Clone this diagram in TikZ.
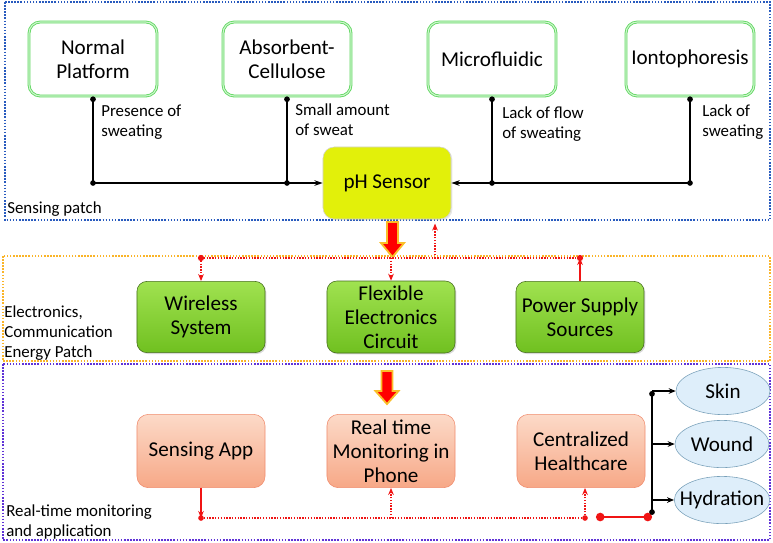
\documentclass[tikz,border=0pt]{standalone}
\usepackage{fontspec}
\setmainfont{Carlito}
\usetikzlibrary{shapes.geometric, arrows.meta, positioning, calc, shadows}

\definecolor{patchblue}{RGB}{40,90,190}
\definecolor{patchorange}{RGB}{250,180,40}
\definecolor{patchpurple}{RGB}{95,50,215}
\definecolor{platgreen}{RGB}{95,215,95}
\definecolor{platgreenlt}{RGB}{205,245,205}
\definecolor{phyellow}{RGB}{226,240,10}
\definecolor{elgreentop}{RGB}{160,226,80}
\definecolor{elgreenbot}{RGB}{112,192,32}
\definecolor{elborder}{RGB}{70,110,30}
\definecolor{apptop}{RGB}{252,218,200}
\definecolor{appbot}{RGB}{247,168,135}
\definecolor{appborder}{RGB}{240,140,110}
\definecolor{outblue}{RGB}{222,238,250}
\definecolor{outborder}{RGB}{120,160,185}
\definecolor{linkred}{RGB}{240,20,20}
\definecolor{glow}{RGB}{250,190,40}

\newcommand{\boxfont}{\fontsize{15}{17}\selectfont}
\newcommand{\notefont}{\fontsize{12}{14.3}\selectfont}

\begin{document}
\begin{tikzpicture}[x=0.025cm, y=-0.025cm, >={Stealth[length=5pt,width=4pt]},
    platform/.style={rounded corners=8pt, draw=platgreen, double=platgreenlt, double distance=0.8pt, line width=0.6pt, fill=white, minimum width=3.2cm, minimum height=1.85cm, align=center, font=\boxfont},
    sensor/.style={rounded corners=8pt, draw=gray!35, fill=phyellow, minimum width=3.2cm, minimum height=1.8cm, font=\boxfont, drop shadow={opacity=0.2, shadow xshift=1pt, shadow yshift=-1pt}},
    circuit/.style={rounded corners=7pt, draw=elborder, top color=elgreentop, bottom color=elgreenbot, minimum width=3.2cm, minimum height=1.78cm, align=center, font=\boxfont, drop shadow={opacity=0.3, shadow xshift=1pt, shadow yshift=-1pt}},
    appbox/.style={rounded corners=8pt, draw=appborder, top color=apptop, bottom color=appbot, minimum width=3.2cm, minimum height=1.83cm, align=center, font=\boxfont},
    outcome/.style={ellipse, draw=outborder, fill=outblue, minimum width=2.35cm, minimum height=1.18cm, inner xsep=-6pt, inner ysep=0pt, font=\boxfont},
    note/.style={font=\notefont, align=left, inner sep=0pt, anchor=north west},
    patch/.style={draw=#1, line width=1.2pt, dash pattern=on 1.1pt off 1.1pt},
    blk/.style={black, line width=0.9pt},
    redlink/.style={linkred, line width=1pt},
    reddot/.style={linkred, line width=1pt, densely dotted},
    bigarrow/.style={fill=red, draw=glow, line width=1.3pt, line join=miter}]

    \useasboundingbox (0,0) rectangle (773,542);

    % Patches
    \draw[patch=patchblue] (5,2) rectangle (770,220);
    \draw[patch=patchorange] (3,256) rectangle (770,361);
    \draw[patch=patchpurple] (3,364) rectangle (770,540);

    % Nodes
    \node (np) [platform] at (93,59) {Normal\\Platform};
    \node (ac) [platform] at (287,59) {Absorbent-\\Cellulose};
    \node (mf) [platform] at (492,59) {Microfluidic};
    \node (io) [platform] at (690,59) {Iontophoresis};
    \node (ph) [sensor] at (387,183) {pH Sensor};

    \node (wl) [circuit] at (201,317) {Wireless\\System};
    \node (fx) [circuit] at (391,317) {Flexible\\Electronics\\Circuit};
    \node (ps) [circuit] at (580,317) {Power Supply\\Sources};

    \node (sa) [appbox] at (201,451) {Sensing App};
    \node (rt) [appbox] at (391,451) {Real time\\Monitoring in\\Phone};
    \node (ch) [appbox] at (581,451) {Centralized\\Healthcare};

    \node (sk) [outcome] at (723,391) {Skin};
    \node (wo) [outcome] at (722,444) {Wound};
    \node (hy) [outcome] at (722,500) {Hydration};

    % Labels
    \node (lbNP) [note] at (101,105) {Presence of\\sweating};
    \node (lbAC) [note] at (295,103) {Small amount\\of sweat};
    \node (lbMF) [note] at (502,106) {Lack of flow\\of sweating};
    \node (lbIO) [note] at (702,104) {Lack of\\sweating};
    \node (lbSP) [note] at (7,201) {Sensing patch};
    \node (lbEL) [note] at (4,305) {Electronics,\\Communication\\Energy Patch};
    \node (lbRT) [note] at (6,504) {Real-time monitoring\\and application};

    % Big arrows between patches
    \draw[bigarrow, shift={(392.5,222)}] (-5.5,0) -- (5.5,0) -- (5.5,21) -- (11.5,21) -- (0,35) -- (-11.5,21) -- (-5.5,21) -- cycle;
    \draw[bigarrow, shift={(387,371)}] (-5.5,0) -- (5.5,0) -- (5.5,20) -- (11.5,20) -- (0,33) -- (-11.5,20) -- (-5.5,20) -- cycle;

    % Arrows
    \draw[blk, {Circle[length=4pt]}-{Stealth[length=6pt,width=4pt]}] (np.south) |- (ph.west);
    \draw[blk, {Circle[length=4pt]}-] (ac.south) -- (ac.south |- ph.west);
    \draw[blk, {Circle[length=4pt]}-{Stealth[length=6pt,width=4pt]}] (io.south) |- (ph.east);
    \draw[blk, {Circle[length=4pt]}-] (mf.south) -- (mf.south |- ph.east);
    \fill (np.south |- ph.west) circle (2pt);
    \fill (ac.south |- ph.west) circle (2pt);
    \fill (mf.south |- ph.east) circle (2pt);
    \fill (io.south |- ph.east) circle (2pt);

    \coordinate (ebus) at (0,258);
    \coordinate (phup) at (435,258);
    \draw[reddot, ->, shorten >=3pt] (phup) -- (phup |- ph.south);
    \draw[reddot] (wl.north |- ebus) -- (ps.north |- ebus);
    \draw[reddot, ->] (wl.north |- ebus) -- (wl.north);
    \draw[reddot, ->] (fx.north |- ebus) -- (fx.north);
    \draw[redlink, ->] (ps.north) -- (ps.north |- ebus);
    \fill[linkred] (wl.north |- ebus) circle (2.2pt);
    \fill[linkred] (ps.north |- ebus) circle (2.2pt);

    \coordinate (abus) at (0,518);
    \coordinate (chin) at (585,518);
    \coordinate (hubL) at (596,517);
    \coordinate (hub) at (652,517);
    \draw[redlink, ->] (sa.south) -- (sa.south |- abus);
    \fill[linkred] (sa.south |- abus) circle (2pt);
    \draw[reddot] (sa.south |- abus) -- (chin);
    \draw[reddot, ->] (rt.south |- abus) -- (rt.south);
    \draw[reddot, ->] (chin) -- (chin |- ch.south);
    \fill[linkred] (chin) circle (2pt);
    \draw[linkred, line width=2pt, {Circle[length=6pt]}-{Circle[length=6pt]}] (hubL) -- (hub);

    \draw[blk, {Circle[length=4pt]}-{Circle[length=4pt]}] (hub |- sk.west) -- ([yshift=1.5pt]hub);
    \draw[blk, ->] (hub |- sk.west) -- (sk.west);
    \draw[blk, ->] (hub |- wo.west) -- (wo.west);
    \draw[blk, ->] (hub |- hy.west) -- (hy.west);
\end{tikzpicture}
\end{document}
